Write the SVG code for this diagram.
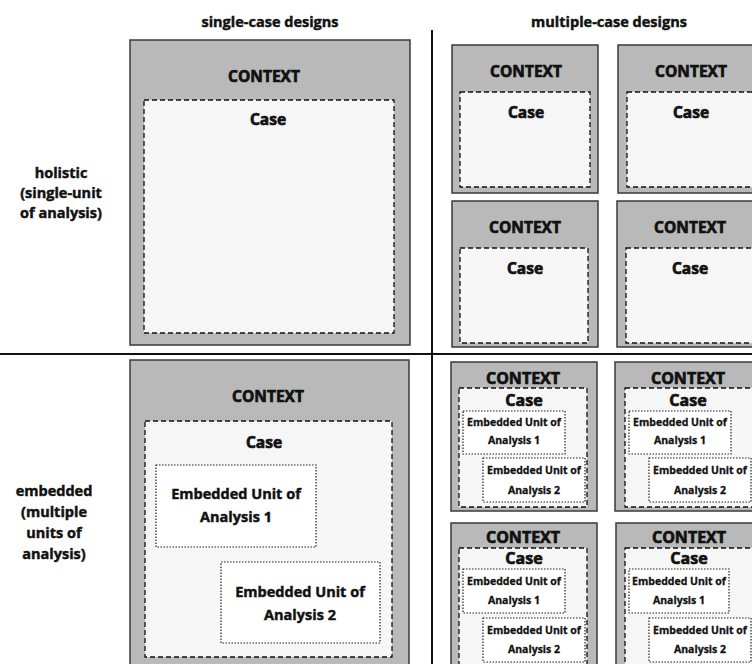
<svg xmlns="http://www.w3.org/2000/svg" width="752" height="664" viewBox="0 0 752 664">
<style>
text{font-family:"Open Sans","Liberation Sans",sans-serif;font-weight:bold;fill:#111;stroke:#111;stroke-width:0.45;text-anchor:middle}
.hdr{font-size:14.5px}
.row{font-size:14.5px}
.ctx{font-size:15.5px;stroke-width:0.7}
.ctxs{font-size:16px;stroke-width:0.7}
.emb{font-size:14.5px}
.embs{font-size:10.5px;stroke-width:0.3}
.outer{fill:#b9b9b9;stroke:#3a3a3a;stroke-width:1.5}
.case{fill:#f6f6f6;stroke:#111;stroke-width:1.3;stroke-dasharray:5 3}
.unit{fill:#fff;stroke:#222;stroke-width:1.2;stroke-dasharray:1.5 1.5}
.div{stroke:#111;stroke-width:2;fill:none}
</style>
<rect width="752" height="664" fill="#fff"/>
<g id="connectors">
<line class="div" x1="0" y1="354" x2="752" y2="354"/>
<line class="div" x1="432" y1="30" x2="432" y2="664"/>
</g>
<g id="headers">
<text class="hdr" x="270" y="27">single-case designs</text>
<text class="hdr" x="609" y="27">multiple-case designs</text>
<text class="row" x="61" y="178">holistic</text>
<text class="row" x="61" y="198">(single-unit</text>
<text class="row" x="61" y="218">of analysis)</text>
<text class="row" x="54" y="496">embedded</text>
<text class="row" x="54" y="517">(multiple</text>
<text class="row" x="54" y="538">units of</text>
<text class="row" x="54" y="559">analysis)</text>
</g>
<g id="single-holistic">
<rect class="outer" x="130" y="40" width="280" height="305"/>
<rect class="case" x="144" y="100" width="250" height="233"/>
<text class="ctx" x="264" y="82">CONTEXT</text>
<text class="ctx" x="268" y="125">Case</text>
</g>
<g id="multi-holistic-1">
<rect class="outer" x="452" y="45" width="146" height="148"/>
<rect class="case" x="460" y="92" width="130" height="95"/>
<text class="ctx" x="526" y="77">CONTEXT</text>
<text class="ctx" x="526" y="118">Case</text>
</g>
<g id="multi-holistic-2">
<rect class="outer" x="618" y="45" width="146" height="148"/>
<rect class="case" x="627" y="92" width="130" height="95"/>
<text class="ctx" x="691" y="77">CONTEXT</text>
<text class="ctx" x="691" y="118">Case</text>
</g>
<g id="multi-holistic-3">
<rect class="outer" x="452" y="201" width="146" height="146"/>
<rect class="case" x="460" y="248" width="128" height="95"/>
<text class="ctx" x="525" y="233">CONTEXT</text>
<text class="ctx" x="525" y="274">Case</text>
</g>
<g id="multi-holistic-4">
<rect class="outer" x="617" y="201" width="146" height="146"/>
<rect class="case" x="626" y="248" width="130" height="95"/>
<text class="ctx" x="690" y="233">CONTEXT</text>
<text class="ctx" x="690" y="274">Case</text>
</g>
<g id="single-embedded">
<rect class="outer" x="130" y="360" width="279" height="320"/>
<rect class="case" x="145" y="421" width="247" height="236"/>
<text class="ctx" x="268" y="402">CONTEXT</text>
<text class="ctx" x="264" y="448">Case</text>
<rect class="unit" x="156" y="465" width="160" height="82"/>
<text class="emb" x="236" y="499">Embedded Unit of</text>
<text class="emb" x="236" y="522">Analysis 1</text>
<rect class="unit" x="221" y="562" width="159" height="81"/>
<text class="emb" x="300" y="597">Embedded Unit of</text>
<text class="emb" x="300" y="620">Analysis 2</text>
</g>
<g id="multi-embedded-1">
<rect class="outer" x="451" y="362" width="146" height="149"/>
<rect class="case" x="459" y="388" width="128" height="119"/>
<text class="ctxs" x="523" y="384">CONTEXT</text>
<text class="ctxs" x="524" y="406">Case</text>
<rect class="unit" x="463" y="411" width="102" height="43"/>
<text class="embs" x="514" y="426">Embedded Unit of</text>
<text class="embs" x="514" y="444">Analysis 1</text>
<rect class="unit" x="483" y="458" width="102" height="44"/>
<text class="embs" x="534" y="474">Embedded Unit of</text>
<text class="embs" x="534" y="494">Analysis 2</text>
</g>
<g id="multi-embedded-2">
<rect class="outer" x="615" y="362" width="146" height="149"/>
<rect class="case" x="625" y="388" width="130" height="119"/>
<text class="ctxs" x="688" y="384">CONTEXT</text>
<text class="ctxs" x="688" y="406">Case</text>
<rect class="unit" x="629" y="411" width="102" height="43"/>
<text class="embs" x="680" y="426">Embedded Unit of</text>
<text class="embs" x="680" y="444">Analysis 1</text>
<rect class="unit" x="649" y="458" width="102" height="44"/>
<text class="embs" x="700" y="474">Embedded Unit of</text>
<text class="embs" x="700" y="494">Analysis 2</text>
</g>
<g id="multi-embedded-3">
<rect class="outer" x="451" y="523" width="146" height="149"/>
<rect class="case" x="459" y="548" width="128" height="119"/>
<text class="ctxs" x="523" y="543">CONTEXT</text>
<text class="ctxs" x="524" y="564">Case</text>
<rect class="unit" x="463" y="569" width="102" height="44"/>
<text class="embs" x="514" y="585">Embedded Unit of</text>
<text class="embs" x="514" y="604">Analysis 1</text>
<rect class="unit" x="483" y="618" width="102" height="44"/>
<text class="embs" x="534" y="634">Embedded Unit of</text>
<text class="embs" x="534" y="653">Analysis 2</text>
</g>
<g id="multi-embedded-4">
<rect class="outer" x="616" y="523" width="146" height="149"/>
<rect class="case" x="625" y="548" width="130" height="119"/>
<text class="ctxs" x="689" y="543">CONTEXT</text>
<text class="ctxs" x="689" y="564">Case</text>
<rect class="unit" x="629" y="569" width="100" height="44"/>
<text class="embs" x="679" y="585">Embedded Unit of</text>
<text class="embs" x="679" y="604">Analysis 1</text>
<rect class="unit" x="649" y="618" width="102" height="44"/>
<text class="embs" x="700" y="634">Embedded Unit of</text>
<text class="embs" x="700" y="653">Analysis 2</text>
</g>
</svg>
